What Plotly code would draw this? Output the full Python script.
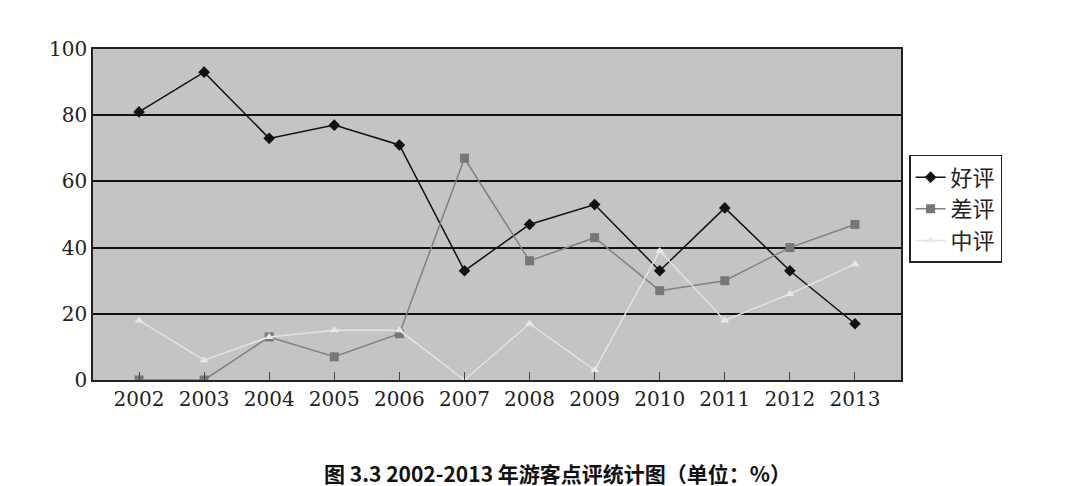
import plotly.graph_objects as go

years = ["2002","2003","2004","2005","2006","2007","2008","2009","2010","2011","2012","2013"]
good = [81, 93, 73, 77, 71, 33, 47, 53, 33, 52, 33, 17]
bad = [0, 0, 13, 7, 14, 67, 36, 43, 27, 30, 40, 47]
mid = [18, 6, 13, 15, 15, 0, 17, 3, 39, 18, 26, 35]

fig = go.Figure()
fig.add_trace(go.Scatter(x=years, y=good, name="好评", mode="lines+markers",
    line=dict(color="#111111", width=1.5), marker=dict(symbol="diamond", size=9, color="#111111")))
fig.add_trace(go.Scatter(x=years, y=bad, name="差评", mode="lines+markers",
    line=dict(color="#808080", width=1.5), marker=dict(symbol="square", size=9, color="#777777")))
fig.add_trace(go.Scatter(x=years, y=mid, name="中评", mode="lines+markers",
    line=dict(color="#e4e4e4", width=1.5), marker=dict(symbol="triangle-up", size=8, color="#e8e8e8")))

fig.update_layout(
    width=1080, height=486, paper_bgcolor="white", plot_bgcolor="#c4c4c4",
    margin=dict(l=85, r=187, t=41, b=114, autoexpand=False),
    font=dict(family="Noto Sans CJK SC, DejaVu Sans", size=20, color="#222"),
    showlegend=True,
    legend=dict(x=1.01, y=0.68, xanchor="left", yanchor="top", bgcolor="white",
                bordercolor="#222", borderwidth=1.5, font=dict(size=22)),
    xaxis=dict(showgrid=False, showline=True, linecolor="#222", linewidth=1.5, automargin=False,
               ticks="inside", ticklen=8, mirror=True, tickfont=dict(family="DejaVu Serif", size=20)),
    yaxis=dict(range=[0, 100], dtick=20, gridcolor="#111", gridwidth=2, showline=True, automargin=False,
               linecolor="#222", linewidth=1.5, mirror=True, zeroline=False,
               tickfont=dict(family="DejaVu Serif", size=20)),
    annotations=[dict(text="<b>图 3.3 2002-2013 年游客点评统计图（单位：%）</b>", x=0.5, y=-0.23,
                      xref="paper", yref="paper", xanchor="center", yanchor="top", showarrow=False,
                      font=dict(size=21, color="#111", family="Noto Sans CJK SC"), xshift=60)],
)
fig.write_html("out.html")
